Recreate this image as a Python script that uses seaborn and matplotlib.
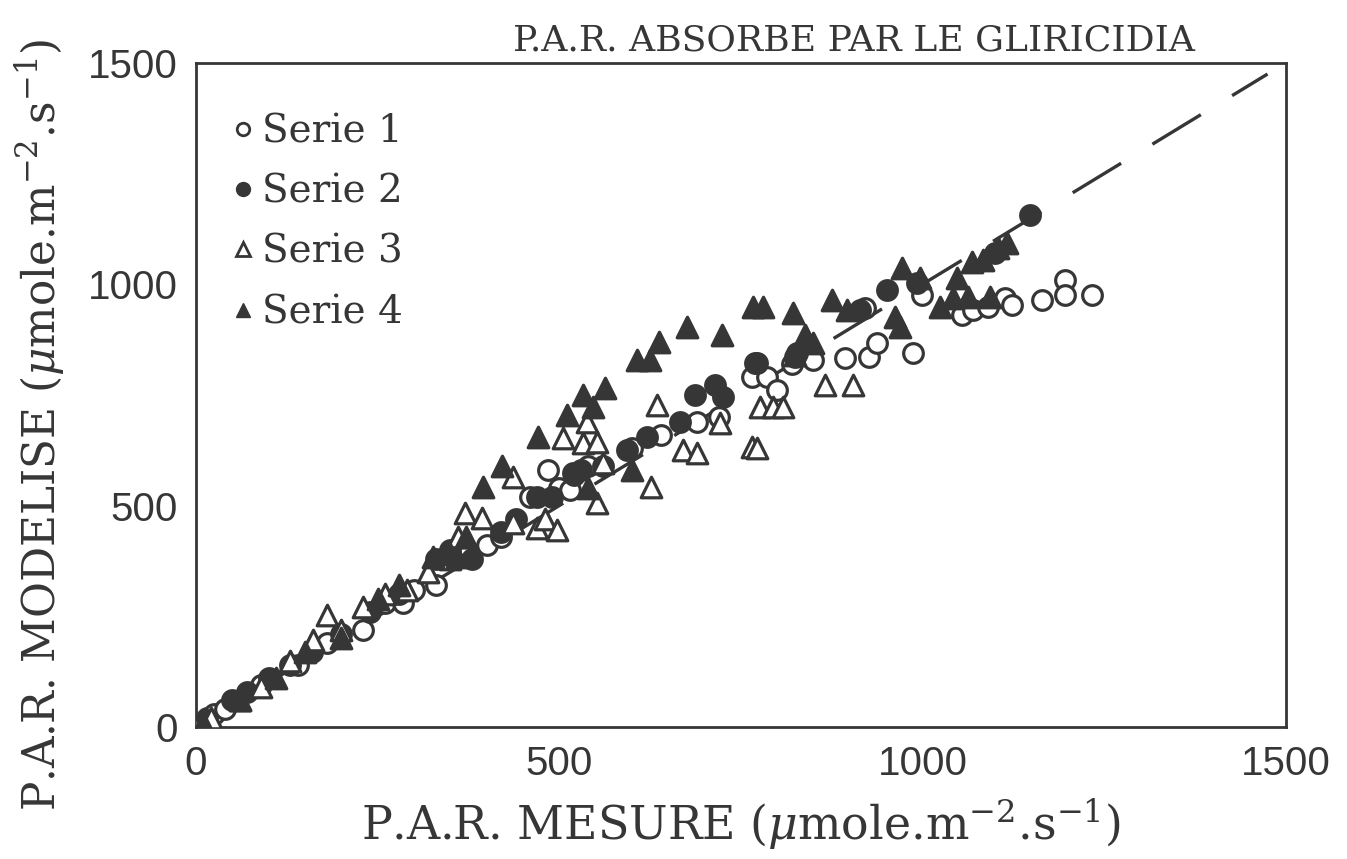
import numpy as np
import pandas as pd
import matplotlib
matplotlib.use("Agg")
import matplotlib.pyplot as plt
import seaborn as sns
from matplotlib.lines import Line2D

# ---------------- data ----------------
s1_x = [5, 15, 25, 40, 90, 140, 180, 230, 260, 285, 300, 330, 370, 400, 420,
        460, 484, 500, 515, 519, 540, 600, 640, 690, 720, 765, 786, 800, 820,
        850, 894, 927, 938, 987, 921, 1000, 1055, 1069, 1090, 1113, 1123,
        1164, 1196, 1196, 1233]
s1_y = [2, 20, 30, 40, 95, 140, 190, 220, 280, 280, 310, 320, 400, 410, 430,
        520, 580, 540, 535, 574, 590, 630, 660, 690, 700, 791, 791, 761, 820,
        830, 834, 836, 867, 845, 946, 976, 931, 942, 949, 969, 953,
        965, 1010, 976, 976]

s2_x = [15, 50, 70, 100, 130, 160, 200, 240, 280, 330, 350, 380, 420, 440,
        470, 490, 520, 530, 560, 593, 621, 666, 687, 714, 725, 769, 772,
        824, 827, 914, 951, 992, 1100, 1148]
s2_y = [15, 60, 80, 110, 140, 170, 210, 260, 300, 380, 400, 380, 440, 470,
        520, 520, 570, 580, 590, 626, 655, 689, 750, 772, 745, 822, 822,
        836, 845, 942, 987, 1003, 1070, 1157]

s3_x = [20, 60, 90, 130, 161, 180, 200, 230, 260, 290, 320, 350, 360, 370,
        394, 436, 436, 470, 480, 497, 505, 533, 538, 552, 552, 560, 627,
        634, 670, 689, 721, 765, 772, 776, 794, 808, 866, 904]
s3_y = [20, 60, 90, 150, 197, 253, 220, 270, 300, 310, 350, 380, 430, 483,
        472, 461, 565, 450, 470, 445, 653, 641, 689, 644, 506, 596, 542,
        727, 626, 619, 687, 632, 630, 723, 723, 723, 773, 773]

s4_x = [10, 60, 110, 150, 200, 250, 280, 326, 350, 359, 372, 395, 421, 471,
        511, 533, 546, 563, 607, 625, 638, 676, 724, 767, 780, 822, 824,
        838, 849, 875, 896, 962, 969, 972, 996, 1024, 1042, 1047, 1062,
        1068, 1083, 1093, 1104, 1116, 540, 600]
s4_y = [10, 60, 110, 170, 200, 290, 320, 384, 390, 384, 429, 542, 590, 655,
        705, 750, 723, 766, 829, 829, 870, 904, 885, 949, 949, 935, 840,
        885, 867, 965, 942, 926, 904, 1037, 1014, 949, 969, 1014, 971,
        1050, 1055, 971, 1082, 1093, 540, 580]

series_names = ["Serie 1", "Serie 2", "Serie 3", "Serie 4"]
x_ticks = [0, 500, 1000, 1500]
y_ticks = [0, 500, 1000, 1500]
line_x = [0, 1475]

# ---------------- style ----------------
INK = "#363636"
sns.set_theme(style="white")
plt.rcParams["font.family"] = ["DejaVu Serif"]
plt.rcParams["mathtext.fontset"] = "dejavuserif"

fig = plt.figure(figsize=(13.47, 8.59), dpi=100)
ax = fig.add_axes([0.1455, 0.1537, 0.809, 0.773])

frames = []
for name, xs, ys in [("Serie 1", s1_x, s1_y), ("Serie 2", s2_x, s2_y),
                     ("Serie 3", s3_x, s3_y), ("Serie 4", s4_x, s4_y)]:
    frames.append(pd.DataFrame({"x": xs, "y": ys, "serie": name}))
df = pd.concat(frames, ignore_index=True)

# 1:1 dashed line
ax.plot(line_x, line_x, color=INK, lw=2.4, dashes=(17, 11), zorder=1)

marker_map = {"Serie 1": "o", "Serie 2": "o", "Serie 3": "^", "Serie 4": "^"}
filled = {"Serie 1": False, "Serie 2": True, "Serie 3": False, "Serie 4": True}
for name in series_names:
    sub = df[df["serie"] == name]
    mk = marker_map[name]
    size = 200 if mk == "o" else 220
    sns.scatterplot(data=sub, x="x", y="y", ax=ax, marker=mk, s=size,
                    facecolor=INK if filled[name] else "white",
                    edgecolor=INK, linewidth=2.3, legend=False, zorder=3)

ax.set_xlim(0, 1500)
ax.set_ylim(0, 1500)
ax.set_xticks(x_ticks)
ax.set_yticks(y_ticks)
ax.set_xticklabels([str(v) for v in x_ticks], fontsize=29,
                   family=["Liberation Sans"], color=INK)
ax.set_yticklabels([str(v) for v in y_ticks], fontsize=29,
                   family=["Liberation Sans"], color=INK)
ax.tick_params(axis="both", direction="inout", length=14, width=1.6,
               color=INK, pad=6)
for sp in ax.spines.values():
    sp.set_color(INK)
    sp.set_linewidth(2.0)

ax.set_xlabel(r"P.A.R. MESURE ($\mu$mole.m$^{-2}$.s$^{-1}$)", fontsize=33,
              color=INK, labelpad=10)
ax.set_ylabel(r"P.A.R. MODELISE ($\mu$mole.m$^{-2}$.s$^{-1}$)", fontsize=31.5,
              color=INK)
ax.yaxis.set_label_coords(-0.118, 0.455)
fig.text(0.887, 0.953, "P.A.R. ABSORBE PAR LE GLIRICIDIA", fontsize=26,
         color=INK, ha="right", va="center")

handles = [
    Line2D([], [], ls="none", marker="o", ms=9, mfc="white", mec=INK, mew=2.0),
    Line2D([], [], ls="none", marker="o", ms=10, mfc=INK, mec=INK),
    Line2D([], [], ls="none", marker="^", ms=10, mfc="white", mec=INK, mew=2.0),
    Line2D([], [], ls="none", marker="^", ms=10, mfc=INK, mec=INK),
]
leg = ax.legend(handles, series_names, loc="upper left",
                bbox_to_anchor=(0.002, 0.977), frameon=False, fontsize=28,
                handlelength=0.5, handletextpad=0.25, labelspacing=0.6)
for t in leg.get_texts():
    t.set_color(INK)

fig.savefig("out.png", dpi=100, facecolor="white")
